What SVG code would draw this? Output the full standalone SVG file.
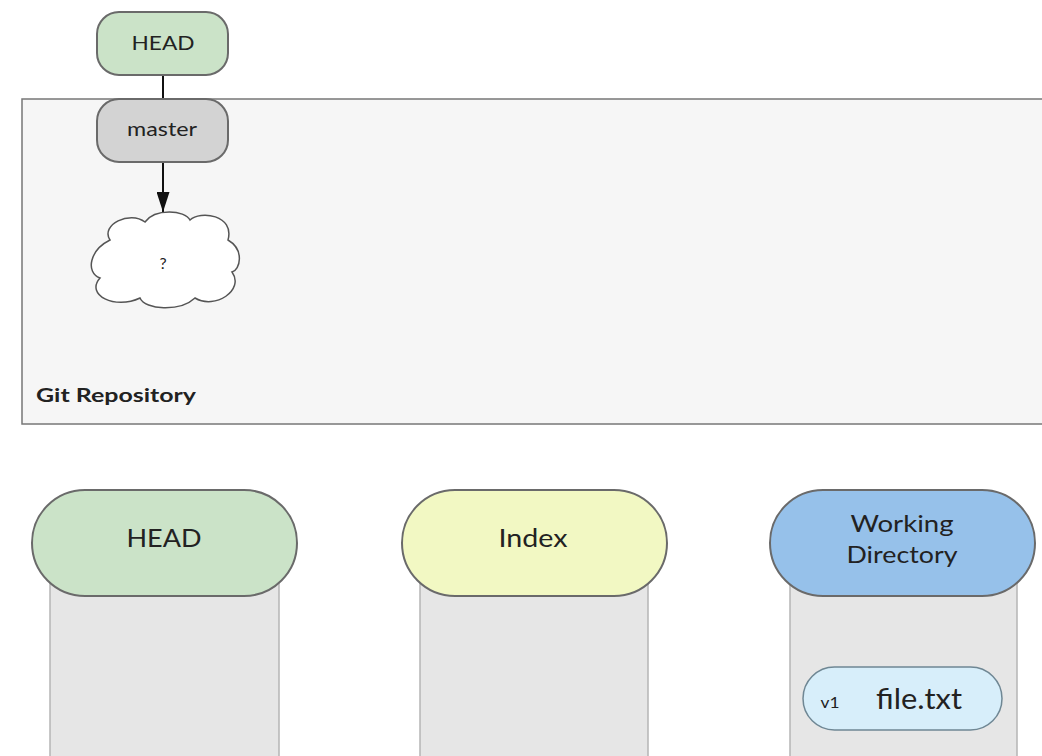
<svg xmlns="http://www.w3.org/2000/svg" width="1042" height="756" viewBox="0 0 1042 756">
<defs>
<style>
text{font-family:Lato,"Noto Sans","Liberation Sans",sans-serif;fill:#222;text-anchor:middle}
.pill{stroke:#6a6a6a;stroke-width:2}
.col{fill:#e6e6e6;stroke:#b5b5b5;stroke-width:1.5}
.edge{stroke:#111;stroke-width:2;fill:none}
</style>
<marker id="arr" markerWidth="20" markerHeight="13" refX="20" refY="6.5" orient="auto" markerUnits="userSpaceOnUse" viewBox="0 0 20 13">
<path d="M0,0 L20,6.5 L0,13 z" fill="#111"/>
</marker>
</defs>
<rect width="1042" height="756" fill="#fff"/>
<g id="repo">
<rect x="22" y="99" width="1030" height="325" fill="#f6f6f6" stroke="#777" stroke-width="1.5"/>
<text x="36" y="402" style="text-anchor:start;font-weight:bold;font-size:19px" textLength="160" lengthAdjust="spacingAndGlyphs">Git Repository</text>
</g>
<g id="connectors">
<line class="edge" x1="163" y1="75" x2="163" y2="99" stroke-width="1.5"/>
<line class="edge" x1="163" y1="162" x2="163" y2="212" marker-end="url(#arr)"/>
</g>
<g id="head-ref">
<rect class="pill" x="97" y="12" width="131" height="63" rx="22" fill="#cbe3c8"/>
<text x="163" y="50" font-size="20" textLength="63" lengthAdjust="spacingAndGlyphs">HEAD</text>
</g>
<g id="master">
<rect class="pill" x="97" y="99" width="131" height="63" rx="22" fill="#d3d3d3"/>
<text x="162" y="136" font-size="19" textLength="70" lengthAdjust="spacingAndGlyphs">master</text>
</g>
<g id="cloud">
<path d="M110 240 C100 225,130 210,145 222 C155 208,185 210,190 220 C200 210,235 215,228 240 C245 250,240 270,232 272 C245 290,215 310,195 298 C180 312,145 310,140 298 C115 310,85 295,100 278 C85 272,90 250,110 240 Z" fill="#fff" stroke="#555" stroke-width="1.5"/>
<text x="163" y="269" font-size="16">?</text>
</g>
<g id="head-col">
<rect class="col" x="50" y="580" width="229" height="190"/>
<rect class="pill" x="32" y="490" width="265" height="106" rx="53" fill="#cbe3c8"/>
<text x="164" y="547" font-size="25" textLength="75" lengthAdjust="spacingAndGlyphs">HEAD</text>
</g>
<g id="index-col">
<rect class="col" x="420" y="580" width="228" height="190"/>
<rect class="pill" x="402" y="490" width="265" height="106" rx="53" fill="#f2f8c3"/>
<text x="533" y="547" font-size="25" textLength="69" lengthAdjust="spacingAndGlyphs">Index</text>
</g>
<g id="wd-col">
<rect class="col" x="790" y="580" width="227" height="190"/>
<rect class="pill" x="770" y="490" width="265" height="106" rx="53" fill="#96c1ea"/>
<text x="902" y="532" font-size="24" textLength="103" lengthAdjust="spacingAndGlyphs">Working</text>
<text x="902" y="563" font-size="24" textLength="111" lengthAdjust="spacingAndGlyphs">Directory</text>
</g>
<g id="file">
<rect x="803" y="667" width="199" height="63" rx="31.5" fill="#d7eefa" stroke="#6f8794" stroke-width="1.5"/>
<text x="830" y="708" font-size="15" textLength="19" lengthAdjust="spacingAndGlyphs">v1</text>
<text x="919" y="709" font-size="29" textLength="86" lengthAdjust="spacingAndGlyphs">file.txt</text>
</g>
</svg>
